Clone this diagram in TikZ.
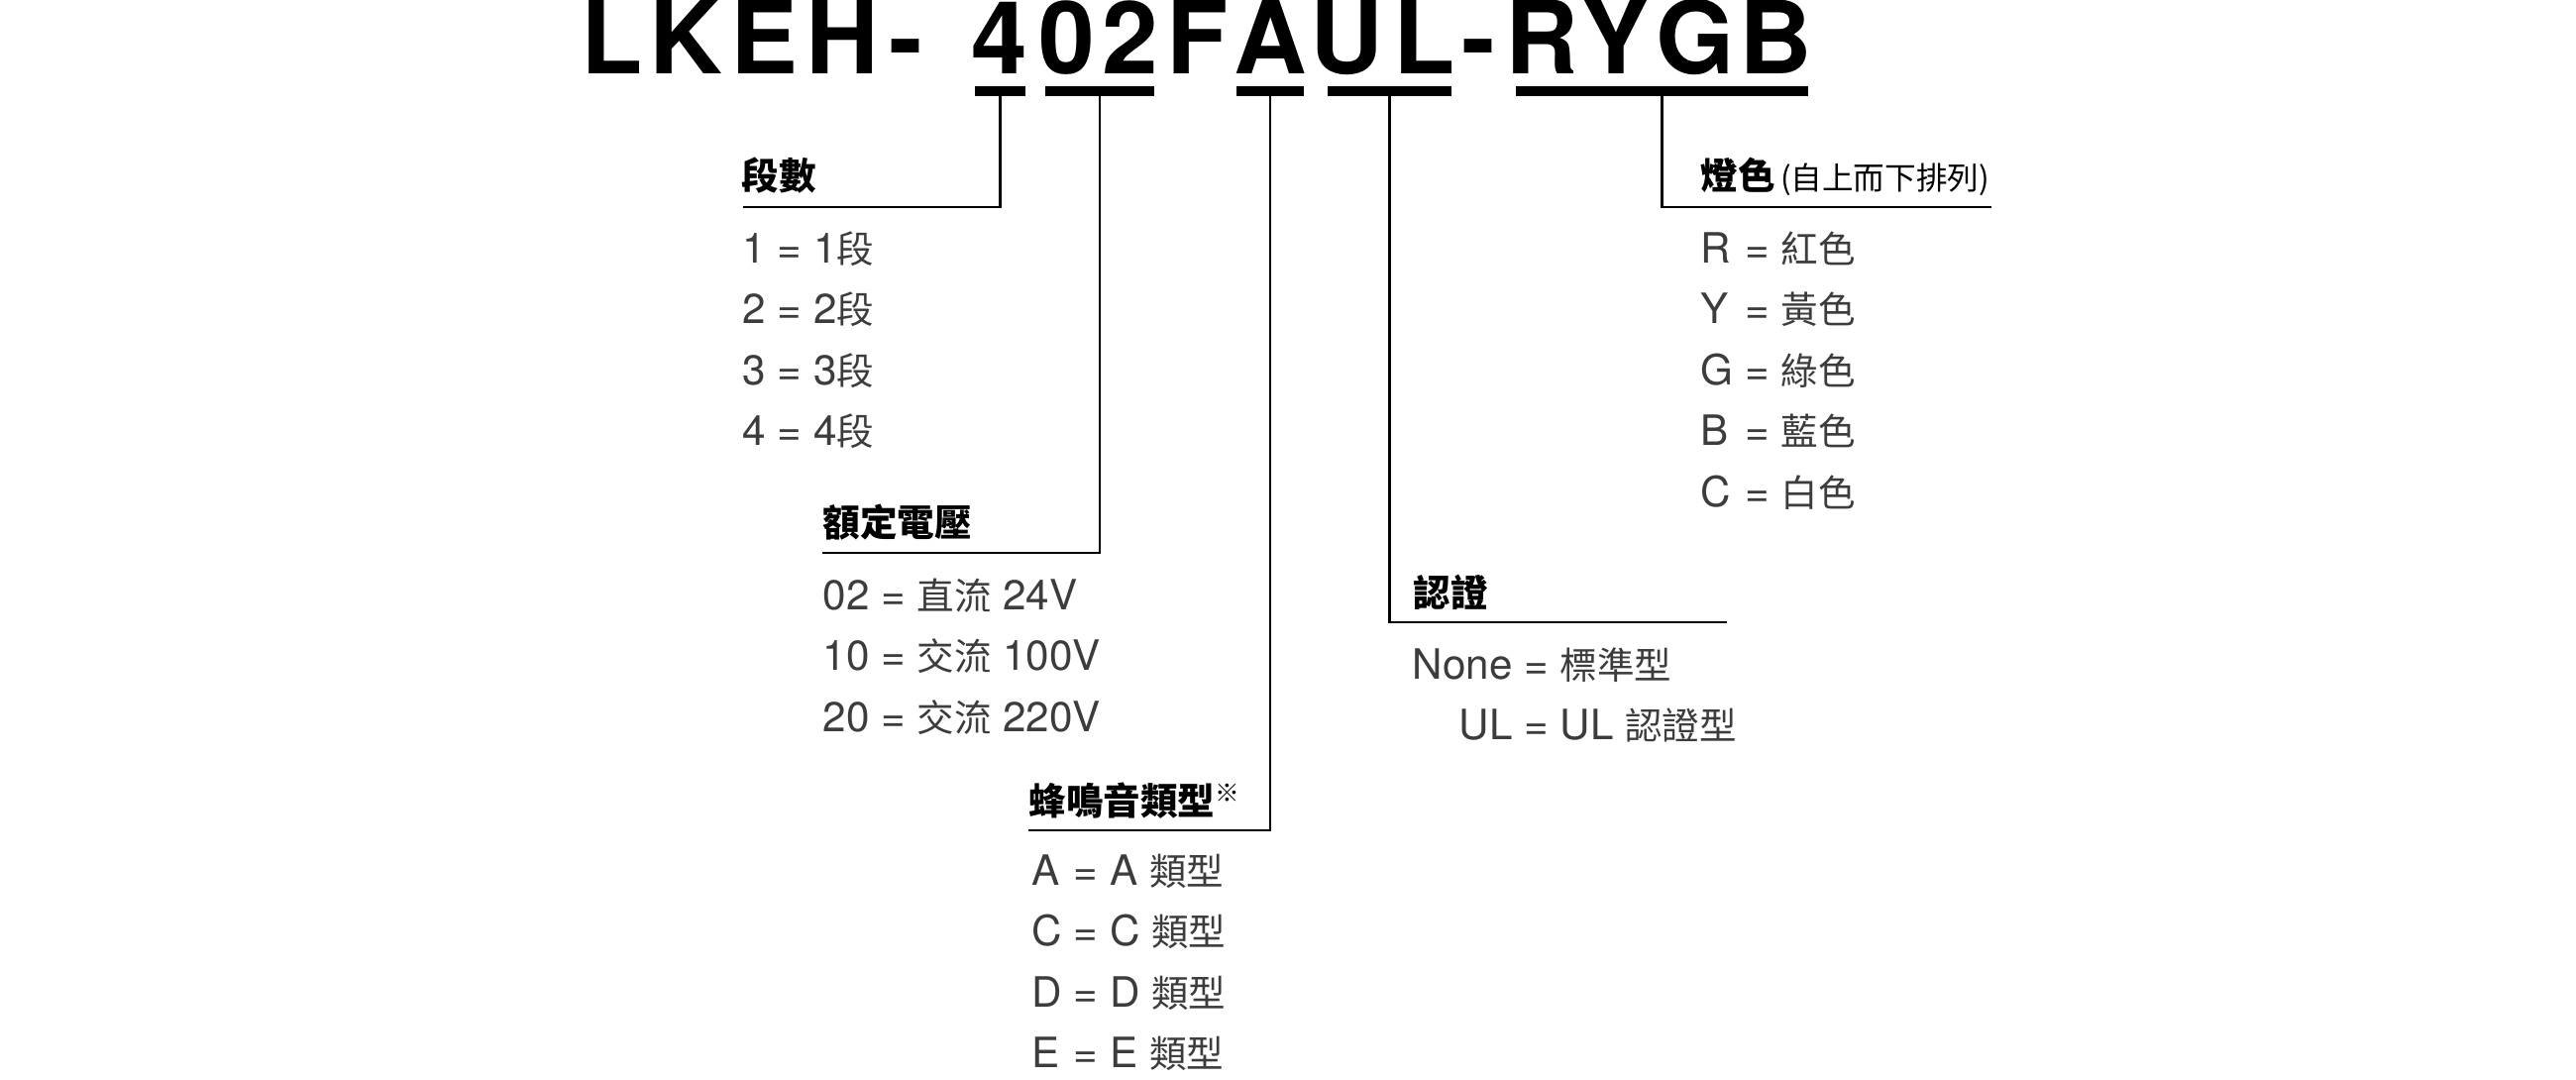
\documentclass[tikz,border=0pt]{standalone}
\usepackage{fontspec}
\setmainfont{TeX Gyre Heros}
\newfontfamily\cjk[Scale=0.89]{Noto Sans CJK TC}
\newcommand\zh[1]{{\cjk #1}}
\definecolor{itemgray}{HTML}{3C3C3C}

\begin{document}
\begin{tikzpicture}[x=0.1mm,y=-0.1mm,
    titlech/.style={font=\fontsize{29pt}{30pt}\selectfont\bfseries,inner sep=0pt,anchor=base},
    bar/.style={fill=black,inner sep=0pt,minimum height=0.95mm},
    lead/.style={line width=0.6pt},
    head/.style={font=\fontsize{12pt}{17.5pt}\selectfont\cjk\bfseries,inner sep=0pt,anchor=base west},
    items/.style={font=\fontsize{12pt}{17.5pt}\selectfont,text=itemgray,inner sep=0pt,anchor=base west}]
  \useasboundingbox (0,0) rectangle (2600,1090);

  % part number, one letter at a time
  \foreach \c/\x [count=\i] in {L/617.5,K/692.5,E/771.5,H/850,-/914,4/1009,0/1076.5,2/1141,F/1209,A/1282,U/1359,L/1437.5,-/1492.5,R/1556.5,Y/1630,G/1711.5,B/1792.5}
    \node[titlech] (t\i) at (\x,75) {\c};

  % underlines of the code fields
  \node[bar,minimum width=5.1mm] (b4) at (1009.5,92) {};
  \node[bar,minimum width=11mm] (b02) at (1110,92) {};
  \node[bar,minimum width=6.8mm] (bA) at (1282,92) {};
  \node[bar,minimum width=12.5mm] (bUL) at (1402.5,92) {};
  \node[bar,minimum width=29.5mm] (bRYGB) at (1677.5,92) {};

  \coordinate (e4) at (750,209);
  \coordinate (e02) at (830,558);
  \coordinate (eA) at (1038,838);
  \coordinate (eUL) at (1743,628);
  \coordinate (eRYGB) at (2010,209);
  \draw[lead] (b4.south) |- (e4);
  \draw[lead] (b02.south) |- (e02);
  \draw[lead] (bA.south) |- (eA);
  \draw[lead] (bUL.south) |- (eUL);
  \draw[lead] (bRYGB.south) |- (eRYGB);

  % headings
  \node[head] (hStage) at (748,192) {段數};
  \node[head] (hVolt) at (830,541) {額定電壓};
  \node[head] (hBuzz) at (1038,822) {蜂鳴音類型\raisebox{3.7pt}{\mdseries\fontsize{7.9pt}{8pt}\selectfont ※}};
  \node[head] (hCert) at (1426,612) {認證};
  \node[head] (hColor) at (1716,192) {燈色{\mdseries\fontsize{10.1pt}{10pt}\selectfont\,(自上而下排列)}};

  % code values
  \node[items] (lStage) at (749,265) {\begin{tabular}[t]{@{}l@{\ =\ }l@{}}
    1 & 1\zh{段}\\ 2 & 2\zh{段}\\ 3 & 3\zh{段}\\ 4 & 4\zh{段}
  \end{tabular}};
  \node[items] (lVolt) at (830,615) {\begin{tabular}[t]{@{}l@{\ =\ }l@{}}
    02 & \zh{直流} 24V\\ 10 & \zh{交流} 100V\\ 20 & \zh{交流} 220V
  \end{tabular}};
  \node[items] (lBuzz) at (1041,893) {\begin{tabular}[t]{@{}l@{\ =\ }l@{}}
    A & A \zh{類型}\\ C & C \zh{類型}\\ D & D \zh{類型}\\ E & E \zh{類型}
  \end{tabular}};
  \node[items] (lCert) at (1425,685) {\begin{tabular}[t]{@{}r@{\ =\ }l@{}}
    None & \zh{標準型}\\ UL & UL \zh{認證型}
  \end{tabular}};
  \node[items] (lColor) at (1716,265) {\begin{tabular}[t]{@{}l@{\ =\ }l@{}}
    R & \zh{紅色}\\ Y & \zh{黃色}\\ G & \zh{綠色}\\ B & \zh{藍色}\\ C & \zh{白色}
  \end{tabular}};
\end{tikzpicture}
\end{document}
